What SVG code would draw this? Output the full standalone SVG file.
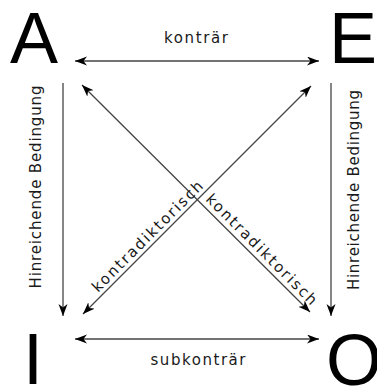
<svg xmlns="http://www.w3.org/2000/svg" width="377" height="387" viewBox="0 0 377 387">
<defs>
<marker id="ah" markerWidth="13" markerHeight="10" refX="12" refY="4.5" orient="auto-start-reverse" markerUnits="userSpaceOnUse">
<path d="M0,0 L12,4.5 L0,9 L3.5,4.5 Z" fill="#000"/>
</marker>
<style>
.big{font-family:"Liberation Sans",Arial,sans-serif;font-size:72px;fill:#000}
.lbl{font-family:"DejaVu Sans",Verdana,sans-serif;font-size:15px;fill:#1a1a1a}
.ln{stroke:#444;stroke-width:1.3;fill:none}
.both{marker-start:url(#ah);marker-end:url(#ah)}
.one{marker-end:url(#ah)}
</style>
</defs>
<rect width="377" height="387" fill="#fff"/>
<g id="node-A"><text class="big" x="10" y="63">A</text></g>
<g id="node-E"><text class="big" x="329" y="63">E</text></g>
<g id="node-I"><text class="big" x="23" y="384">I</text></g>
<g id="node-O"><text class="big" x="326" y="385">O</text></g>
<g id="connectors">
<line class="ln both" x1="75" y1="61" x2="319" y2="61"/>
<line class="ln both" x1="75" y1="339" x2="319" y2="339"/>
<line class="ln one" x1="63" y1="83" x2="63" y2="316"/>
<line class="ln one" x1="331" y1="83" x2="331" y2="316"/>
<line class="ln both" x1="82" y1="85" x2="310" y2="312"/>
<line class="ln both" x1="311" y1="86" x2="83" y2="314"/>
</g>
<g id="labels">
<text class="lbl" x="196" y="43" text-anchor="middle" textLength="64" lengthAdjust="spacing">konträr</text>
<text class="lbl" x="198" y="365" text-anchor="middle" textLength="95" lengthAdjust="spacing">subkonträr</text>
<text class="lbl" transform="translate(41,187) rotate(-90)" text-anchor="middle" textLength="203" lengthAdjust="spacing">Hinreichende Bedingung</text>
<text class="lbl" transform="translate(359,190) rotate(-90)" text-anchor="middle" textLength="200" lengthAdjust="spacing">Hinreichende Bedingung</text>
<text class="lbl" transform="translate(98,293) rotate(-45)" textLength="150" lengthAdjust="spacing">kontradiktorisch</text>
<text class="lbl" transform="translate(205,200) rotate(45)" textLength="150" lengthAdjust="spacing">kontradiktorisch</text>
</g>
</svg>
